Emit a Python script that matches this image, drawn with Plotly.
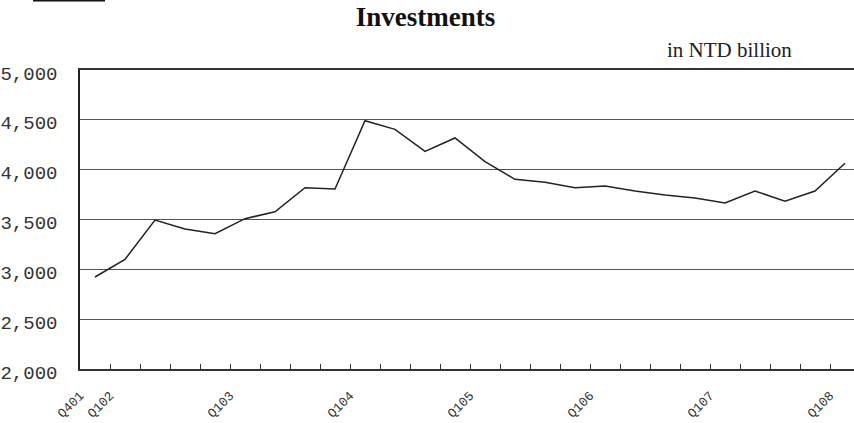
import plotly.graph_objects as go

# Quarterly investments, ROC year quarters (Q4 of 101 through Q1 of 108)
quarters = [
    "101Q4",
    "102Q1", "102Q2", "102Q3", "102Q4",
    "103Q1", "103Q2", "103Q3", "103Q4",
    "104Q1", "104Q2", "104Q3", "104Q4",
    "105Q1", "105Q2", "105Q3", "105Q4",
    "106Q1", "106Q2", "106Q3", "106Q4",
    "107Q1", "107Q2", "107Q3", "107Q4",
    "108Q1",
]
investments = [
    2923,
    3100, 3495, 3405, 3357,
    3508, 3578, 3819, 3805,
    4491, 4404, 4184, 4318,
    4080, 3903, 3873, 3819,
    3836, 3786, 3746, 3716,
    3666, 3786, 3683, 3786,
    4064,
]
# axis labels shown at the start of each year
year_labels = {"101Q4": "Q401", "102Q1": "Q102", "103Q1": "Q103", "104Q1": "Q104",
               "105Q1": "Q105", "106Q1": "Q106", "107Q1": "Q107", "108Q1": "Q108"}
y_ticks = [2000, 2500, 3000, 3500, 4000, 4500, 5000]

W, H = 854, 423
L, T, B = 80, 70, 54
cat_px = 30.0
plot_w = W - L

x_idx = list(range(len(quarters)))
x_max = -0.5 + plot_w / cat_px

# tick marks sit on the boundaries between quarters; labels hang off the left boundary
tickvals = [i - 0.5 for i in x_idx]
ticktext = [year_labels.get(q, "") for q in quarters]

fig = go.Figure()
fig.add_trace(go.Scatter(
    x=x_idx, y=investments, mode="lines",
    line=dict(color="#222222", width=1.5),
    hoverinfo="skip", showlegend=False,
))

fig.update_layout(
    width=W, height=H,
    margin=dict(l=L, r=0, t=T, b=B, autoexpand=False),
    paper_bgcolor="white", plot_bgcolor="white",
    title=dict(
        text="<b>Investments</b>",
        font=dict(family="Liberation Serif", size=27, color="#111111"),
        x=425.5 / W, xanchor="center", xref="container",
        y=1 - 17 / H, yanchor="middle", yref="container",
    ),
    xaxis=dict(
        range=[-0.5, x_max],
        tickmode="array", tickvals=tickvals, ticktext=ticktext,
        ticks="inside", ticklen=5, tickwidth=1, tickcolor="#333333",
        tickangle=-45,
        tickfont=dict(family="Liberation Mono", size=13, color="#333333"),
        ticklabelstandoff=12,
        showline=True, mirror=True, linecolor="#333333", linewidth=1.5,
        showgrid=False, zeroline=False,
    ),
    yaxis=dict(
        range=[2000, 5000],
        tickmode="array", tickvals=y_ticks,
        ticktext=[f"{v:,}" for v in y_ticks],
        tickfont=dict(family="Liberation Mono", size=19, color="#333333"),
        ticks="", ticklabelstandoff=17, ticklabelshift=3,
        showline=True, linecolor="#222222", linewidth=1.5,
        showgrid=True, gridcolor="#555555", gridwidth=1,
        zeroline=False,
    ),
    annotations=[dict(
        text="in NTD billion",
        xref="paper", yref="paper",
        x=(794 - L) / plot_w, y=(H - B - 50) / (H - T - B),
        xanchor="right", yanchor="middle", showarrow=False,
        font=dict(family="Liberation Serif", size=21, color="#222222"),
    )],
    shapes=[dict(
        type="line", xref="paper", yref="paper",
        x0=(33 - L) / plot_w, x1=(105 - L) / plot_w,
        y0=(H - B - 0.5) / (H - T - B), y1=(H - B - 0.5) / (H - T - B),
        line=dict(color="#111111", width=2),
    )],
)

fig.write_html("out.html")
